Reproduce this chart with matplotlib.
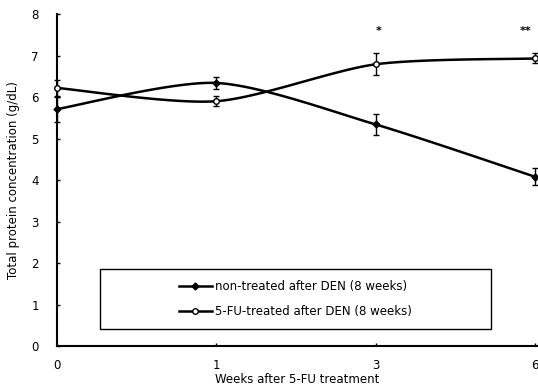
import numpy as np
import matplotlib
matplotlib.use("Agg")
import matplotlib.pyplot as plt
from matplotlib.patches import Rectangle

plt.rcParams['font.family'] = ['DejaVu Sans']

weeks = ['0', '1', '3', '6']
non_treated = [5.71, 6.34, 5.34, 4.08]
non_treated_err = [0.30, 0.14, 0.25, 0.21]
fu_treated = [6.22, 5.90, 6.79, 6.93]
fu_treated_err = [0.20, 0.12, 0.26, 0.12]
stars = ['', '', '*', '**']


def smooth(y, n=40):
    # catmull-rom style curve through the points, like a spreadsheet "smoothed line"
    y = np.asarray(y, dtype=float)
    x = np.arange(len(y), dtype=float)
    px = np.concatenate([[x[0]], x, [x[-1]]])
    py = np.concatenate([[y[0]], y, [y[-1]]])
    xs, ys = [], []
    for i in range(1, len(px) - 2):
        t = np.linspace(0, 1, n)
        for p, out in ((px, xs), (py, ys)):
            p0, p1, p2, p3 = p[i - 1], p[i], p[i + 1], p[i + 2]
            m1 = (p2 - p0) / 2.0 * 0.8
            m2 = (p3 - p1) / 2.0 * 0.8
            h00 = 2 * t**3 - 3 * t**2 + 1
            h10 = t**3 - 2 * t**2 + t
            h01 = -2 * t**3 + 3 * t**2
            h11 = t**3 - t**2
            out.extend(h00 * p1 + h10 * m1 + h01 * p2 + h11 * m2)
    return np.array(xs), np.array(ys)


fig = plt.figure(figsize=(5.38, 3.91), dpi=100)
ax = fig.add_axes([0.106, 0.115, 0.892, 0.849])

x = np.arange(len(weeks))

sx, sy = smooth(non_treated)
ax.plot(sx, sy, color='black', lw=1.8, zorder=2, clip_on=False)
sx, sy = smooth(fu_treated)
ax.plot(sx, sy, color='black', lw=1.8, zorder=2, clip_on=False)

ax.errorbar(x, non_treated, yerr=non_treated_err, fmt='D', ms=3.5,
            color='black', mfc='black', ecolor='black', elinewidth=1,
            capsize=2.5, capthick=1, zorder=3, clip_on=False)
ax.errorbar(x, fu_treated, yerr=fu_treated_err, fmt='o', ms=4,
            color='black', mfc='white', ecolor='black', elinewidth=1,
            capsize=2.5, capthick=1, zorder=4, clip_on=False)

for i, s in enumerate(stars):
    if s:
        ax.text(x[i] + (0.02 if len(s) == 1 else -0.06), 7.6, s,
                ha='center', va='center', fontsize=8, fontweight='bold')

# legend: plain rectangle with the entries centred inside it
ax.add_patch(Rectangle((0.0896, 0.051), 0.8144, 0.181, transform=ax.transAxes,
                       fill=False, edgecolor='black', lw=1, zorder=5))
h1, = ax.plot([], [], color='black', lw=1.8, marker='D', ms=3.5, mfc='black')
h2, = ax.plot([], [], color='black', lw=1.8, marker='o', ms=4, mfc='white')
leg = ax.legend([h1, h2],
                ['non-treated after DEN (8 weeks)', '5-FU-treated after DEN (8 weeks)'],
                loc='center', bbox_to_anchor=(0.497, 0.1415), frameon=False,
                handlelength=2.8, labelspacing=1.05, handletextpad=0.3,
                prop={'size': 8.5})

ax.set_xlim(0, 3.012)
ax.set_ylim(0, 8)
ax.set_xticks(x)
ax.set_xticklabels(weeks)
ax.set_yticks(range(9))
ax.tick_params(axis='both', direction='in', length=2, width=1, labelsize=8.5)
ax.tick_params(axis='y', pad=13)
ax.tick_params(axis='x', pad=9)

for side in ['top', 'right']:
    ax.spines[side].set_visible(False)
for side in ['left', 'bottom']:
    ax.spines[side].set_linewidth(1.5)

ax.set_xlabel('Weeks after 5-FU treatment', fontsize=8.5, labelpad=1)
ax.set_ylabel('Total protein concentration (g/dL)', fontsize=8.5, labelpad=8)

fig.savefig('out.png', dpi=100)
